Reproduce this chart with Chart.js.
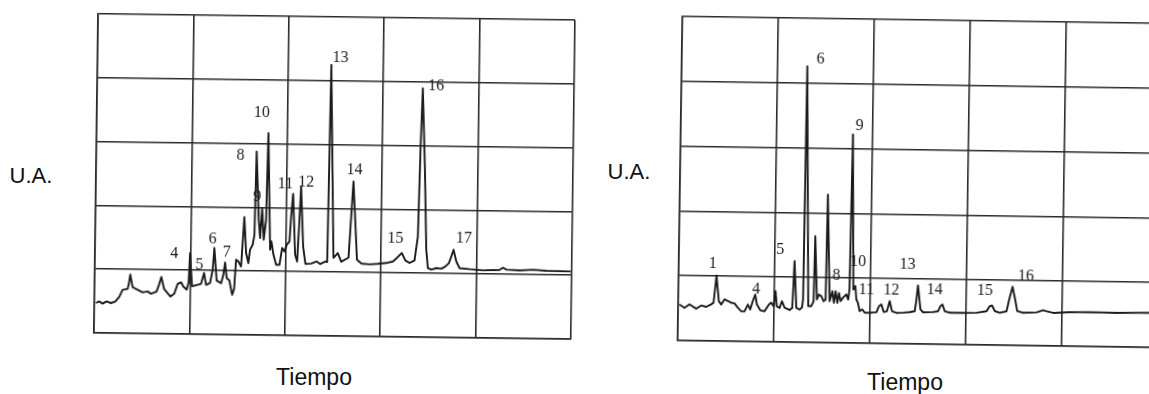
<!DOCTYPE html>
<html>
<head>
<meta charset="utf-8">
<script src="https://cdn.jsdelivr.net/npm/chart.js@4.4.1/dist/chart.umd.min.js"></script>
<style>
  html, body { margin: 0; padding: 0; background: #fff; }
  body { width: 1149px; height: 394px; overflow: hidden; position: relative; }
  .panel { position: absolute; }
  .panel canvas { display: block; }
  .axis-label {
    position: absolute;
    font-family: "Liberation Sans", Arial, sans-serif;
    font-size: 22px;
    color: #111;
    transform: translate(-50%, -50%);
    white-space: nowrap;
  }
  .axis-label.time { font-size: 23px; }
</style>
</head>
<body>

<div class="panel" id="leftPanel" style="left:92px; top:13px; transform: rotate(0.75deg);">
  <canvas id="leftChart" width="485" height="327"></canvas>
</div>
<div class="panel" id="rightPanel" style="left:676px; top:16px; transform: rotate(0.84deg);">
  <canvas id="rightChart" width="488" height="332"></canvas>
</div>

<div class="axis-label" style="left:31px; top:176px;">U.A.</div>
<div class="axis-label time" style="left:314px; top:377px;">Tiempo</div>
<div class="axis-label" style="left:629px; top:172px;">U.A.</div>
<div class="axis-label time" style="left:905px; top:382px;">Tiempo</div>

<script>
// time axis: 10 per grid column, signal axis: 20 per grid row

// left run
let leftTime = [
    0.17, 0.52, 0.87, 1.28, 1.75, 2.20, 2.61, 2.94, 3.47, 3.59,
    3.73, 3.99, 4.52, 5.05, 5.57, 5.93, 6.51, 6.76, 6.99, 7.29,
    7.96, 8.37, 8.71, 9.06, 9.31, 9.66, 9.86, 9.97, 10.22, 10.70,
    11.16, 11.46, 11.69, 12.10, 12.36, 12.51, 12.79, 13.26, 13.49, 13.65,
    13.84, 14.12, 14.43, 14.63, 14.80, 15.04, 15.33, 15.61, 15.84, 16.09,
    16.25, 16.52, 16.69, 16.81, 17.12, 17.29, 17.46, 17.67, 17.89, 18.02,
    18.35, 18.48, 18.71, 19.00, 19.35, 19.61, 19.86, 20.09, 20.37, 20.51,
    20.69, 20.98, 21.20, 21.36, 21.52, 21.81, 22.07, 22.67, 23.26, 23.62,
    24.17, 24.35, 24.52, 25.00, 25.45, 25.82, 26.58, 27.00, 27.47, 27.95,
    28.79, 29.63, 30.54, 31.23, 31.64, 32.16, 32.53, 32.98, 33.50, 33.82,
    33.98, 34.14, 34.46, 34.72, 34.91, 35.27, 35.79, 36.32, 36.76, 37.11,
    37.35, 37.58, 37.88, 38.23, 39.29, 40.68, 42.43, 42.78, 43.14, 44.53,
    45.93, 47.33, 49.88
];
let leftSignal = [
    9.4, 9.9, 9.2, 9.9, 9.4, 9.9, 11.4, 13.6, 13.9, 15.5,
    18.4, 14.5, 13.7, 12.9, 13.2, 12.5, 13.2, 15.4, 17.8, 14.1,
    11.7, 12.6, 15.7, 16.2, 14.9, 13.9, 16.2, 25.4, 15.0, 15.4,
    15.8, 19.2, 15.5, 16.1, 20.3, 27.1, 16.9, 16.1, 18.8, 22.6,
    17.7, 17.0, 12.5, 14.3, 23.5, 23.0, 21.4, 36.9, 25.6, 22.5,
    26.7, 28.3, 31.4, 57.5, 36.1, 30.4, 39.8, 29.9, 36.1, 63.3,
    26.8, 29.4, 25.2, 22.1, 22.1, 27.4, 26.3, 28.4, 29.4, 37.3,
    44.4, 25.3, 23.2, 34.2, 46.7, 27.9, 22.5, 22.6, 23.3, 22.5,
    23.3, 23.2, 85.0, 24.5, 26.0, 23.3, 24.6, 48.5, 24.0, 22.8,
    22.6, 22.8, 23.1, 23.6, 24.7, 26.3, 24.0, 23.2, 24.0, 31.5,
    58.7, 78.0, 53.5, 27.4, 21.7, 21.2, 21.7, 21.5, 22.3, 23.3,
    25.4, 27.5, 23.9, 21.8, 21.5, 21.2, 21.4, 22.1, 21.5, 21.3,
    21.6, 21.3, 21.2
];
let leftPeakIds = ['4', '5', '6', '7', '8', '9', '10', '11', '12', '13', '14', '15', '16', '17'];
let leftPeakLabelX = [8.32, 10.96, 12.32, 13.80, 15.11, 16.92, 17.29, 19.87, 22.04, 25.47, 27.09, 31.48, 35.54, 38.65];
let leftPeakLabelY = [25.1, 21.8, 29.9, 25.7, 56.2, 43.4, 69.5, 47.5, 48.1, 87.1, 52.2, 30.7, 78.8, 31.0];

// right run
let rightTime = [
    0.13, 0.66, 1.18, 1.88, 2.40, 2.92, 3.44, 3.68, 3.95, 4.23,
    4.48, 4.82, 5.17, 5.52, 5.87, 6.22, 6.58, 6.92, 7.26, 7.51,
    7.77, 8.01, 8.20, 8.56, 9.01, 9.45, 9.69, 9.94, 10.12, 10.28,
    10.57, 10.80, 11.09, 11.61, 11.89, 12.06, 12.31, 12.65, 12.90, 13.00,
    13.09, 13.55, 13.87, 14.10, 14.18, 14.44, 14.64, 14.90, 15.14, 15.35,
    15.43, 15.77, 16.04, 16.22, 16.38, 16.58, 16.73, 16.92, 17.15, 17.50,
    17.70, 17.82, 17.95, 18.22, 18.43, 18.55, 18.72, 18.91, 19.19, 19.44,
    19.96, 20.66, 20.92, 21.17, 21.42, 21.76, 22.03, 22.28, 22.74, 23.43,
    24.13, 24.65, 24.81, 24.95, 25.24, 25.52, 26.56, 27.08, 27.32, 27.53,
    27.78, 28.30, 29.69, 31.09, 32.13, 32.46, 32.70, 32.99, 33.51, 34.21,
    34.47, 34.80, 35.09, 35.32, 35.94, 37.34, 38.03, 38.38, 39.07, 40.81,
    42.90, 45.68, 49.05, 50.00
];
let rightSignal = [
    11.1, 10.1, 11.2, 9.9, 10.9, 10.5, 11.3, 11.8, 20.2, 12.3,
    11.3, 12.9, 12.4, 11.9, 11.7, 10.4, 9.3, 9.3, 11.4, 9.9,
    12.5, 14.5, 11.5, 9.7, 9.4, 11.5, 12.1, 11.0, 15.7, 11.0,
    10.5, 12.6, 10.6, 9.9, 10.6, 25.0, 10.6, 10.1, 10.7, 13.2,
    85.2, 11.2, 11.2, 12.7, 32.8, 13.3, 14.8, 14.3, 12.8, 13.3,
    45.7, 12.8, 15.9, 12.3, 15.9, 12.3, 15.4, 12.9, 13.9, 15.0,
    13.4, 16.5, 64.4, 16.5, 17.6, 13.5, 12.4, 9.9, 10.4, 9.4,
    9.4, 9.6, 11.5, 12.0, 9.7, 10.0, 13.1, 10.0, 9.5, 9.6,
    9.8, 10.1, 13.7, 18.1, 10.7, 9.8, 9.9, 10.2, 11.8, 12.3,
    10.2, 9.8, 9.8, 9.9, 10.4, 12.0, 12.2, 10.5, 10.0, 10.5,
    14.1, 18.1, 14.2, 10.6, 10.1, 10.3, 11.0, 10.7, 10.2, 10.5,
    10.6, 10.5, 10.7, 10.6
];
let rightPeakIds = ['1', '4', '5', '6', '8', '9', '10', '11', '12', '13', '14', '15', '16'];
let rightPeakLabelX = [3.54, 8.11, 10.55, 14.46, 16.43, 18.63, 18.66, 19.58, 22.19, 23.82, 26.70, 31.92, 36.17];
let rightPeakLabelY = [23.8, 16.1, 28.5, 87.4, 20.6, 67.0, 25.1, 16.3, 16.4, 24.5, 16.6, 16.8, 21.4];

const ink = '#1a1a1a';
const gridInk = '#2a2a2a';

// peak numbers written next to the trace
const peakLabels = {
    id: 'peakLabels',
    afterDatasetsDraw(chart, args, opts) {
        const ctx = chart.ctx;
        const xs = chart.scales.x;
        const ys = chart.scales.y;
        ctx.save();
        ctx.font = '16px "Liberation Serif", "DejaVu Serif", serif';
        ctx.fillStyle = ink;
        ctx.textAlign = 'center';
        ctx.textBaseline = 'middle';
        opts.ids.forEach((id, i) => {
            ctx.fillText(id, xs.getPixelForValue(opts.x[i]), ys.getPixelForValue(opts.y[i]));
        });
        ctx.restore();
    }
};

function chromatogram(canvasId, time, signal, ids, labelX, labelY) {
    let points = time.map((t, i) => ({x: t, y: signal[i]}));
    return new Chart(document.getElementById(canvasId), {
        type: 'scatter',
        data: {
            datasets: [{
                data: points,
                showLine: true,
                borderColor: ink,
                borderWidth: 1.9,
                borderJoinStyle: 'round',
                pointRadius: 0,
                tension: 0
            }]
        },
        options: {
            responsive: false,
            animation: false,
            layout: {padding: 4},
            plugins: {
                legend: {display: false},
                tooltip: {enabled: false},
                peakLabels: {ids: ids, x: labelX, y: labelY}
            },
            scales: {
                x: {
                    type: 'linear', min: 0, max: 50,
                    ticks: {display: false, stepSize: 10},
                    grid: {color: gridInk, lineWidth: 1.6, drawTicks: false},
                    border: {color: gridInk, width: 1.6}
                },
                y: {
                    type: 'linear', min: 0, max: 100,
                    ticks: {display: false, stepSize: 20},
                    grid: {color: gridInk, lineWidth: 1.6, drawTicks: false},
                    border: {color: gridInk, width: 1.6}
                }
            }
        },
        plugins: [peakLabels]
    });
}

chromatogram('leftChart', leftTime, leftSignal, leftPeakIds, leftPeakLabelX, leftPeakLabelY);
chromatogram('rightChart', rightTime, rightSignal, rightPeakIds, rightPeakLabelX, rightPeakLabelY);
</script>
</body>
</html>
